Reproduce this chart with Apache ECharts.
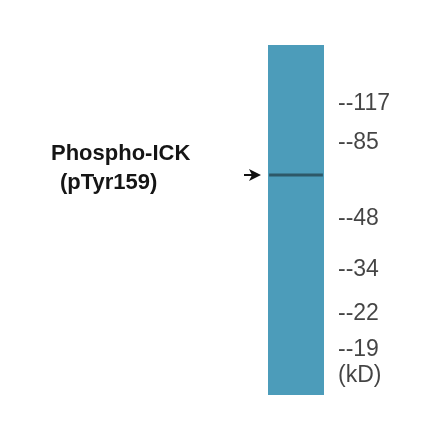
<!DOCTYPE html>
<html>
<head>
<meta charset="utf-8">
<script src="https://cdn.jsdelivr.net/npm/echarts@6/dist/echarts.min.js"></script>
<style>html,body{margin:0;padding:0;background:#fff}#chart{width:440px;height:441px}</style>
</head>
<body>
<div id="chart"></div>
<script>
// marker ladder, positions in pixels down the lane (lane top = 0)
var markerLabels = ['--117', '--85', '--48', '--34', '--22', '--19', '(kD)'];
var markerPos = [59, 98, 174, 225, 269, 305, 331];
var bandPos = 130;
var bandX = [0.02, 0.98];

var chart = echarts.init(document.getElementById('chart'));
var option = {
    animation: false,
    grid: {left: 268, top: 45, width: 56, height: 350},
    xAxis: {type: 'value', min: 0, max: 1, show: false},
    yAxis: {type: 'value', min: 0, max: 350, inverse: true, show: false},
    graphic: [
        {type: 'text', left: 51, top: 143, style: {text: 'Phospho-ICK', font: 'bold 22px "Liberation Sans", Arial', fill: '#151515'}},
        {type: 'text', left: 60, top: 172, style: {text: '(pTyr159)', font: 'bold 22px "Liberation Sans", Arial', fill: '#151515'}},
        {type: 'polygon', shape: {points: [[249,169],[261,175],[249,181],[252,175]]}, style: {fill: '#111'}},
        {type: 'line', shape: {x1: 244, y1: 175, x2: 255, y2: 175}, style: {stroke: '#111', lineWidth: 2}}
    ],
    series: [
        {
            type: 'line', silent: true, symbol: 'none',
            data: bandX.map(function (x) { return [x, bandPos]; }),
            lineStyle: {color: '#2d5868', width: 3},
            markArea: {
                silent: true,
                itemStyle: {color: '#4c9cba'},
                data: [[{coord: [0, 0]}, {coord: [1, 350]}]]
            },
            z: 3
        },
        {
            type: 'scatter', clip: false, symbolSize: 0,
            data: markerPos.map(function (p) { return [1, p]; }),
            label: {
                show: true, position: 'right', distance: 14,
                formatter: function (p) { return markerLabels[p.dataIndex]; },
                fontSize: 23, color: '#151515', fontFamily: '"Liberation Sans Narrow", "Liberation Sans", Arial'
            }
        }
    ]
};
chart.setOption(option);
</script>
</body>
</html>
